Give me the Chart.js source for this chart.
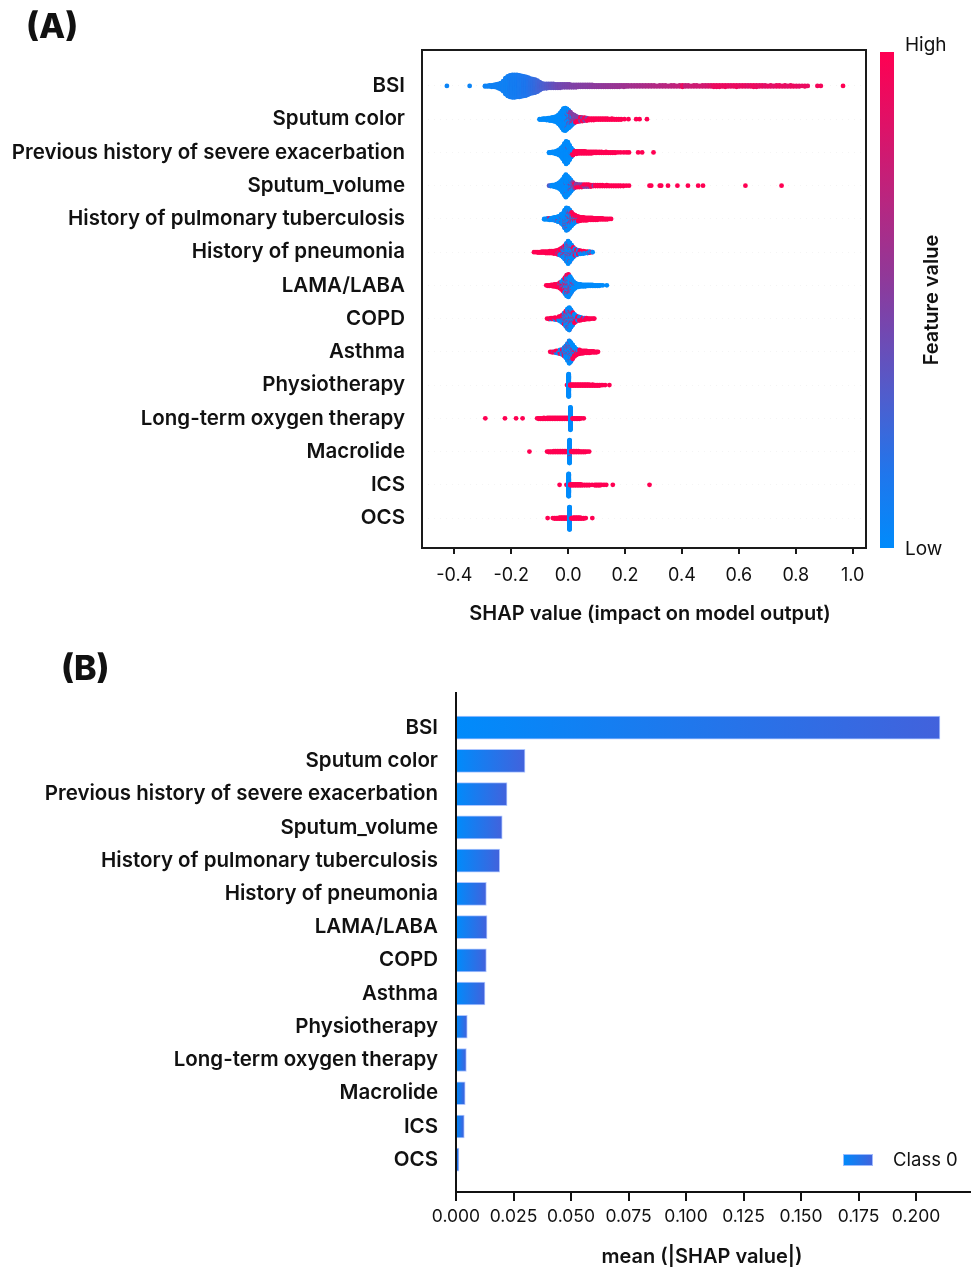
<!DOCTYPE html>
<html><head><meta charset="utf-8">
<script src="https://cdn.jsdelivr.net/npm/chart.js@4.4.1/dist/chart.umd.min.js"></script>
<style>
html,body{margin:0;padding:0;background:#fff;}
#wrap{position:relative;width:971px;height:1267px;overflow:hidden;}
canvas{position:absolute;left:0;}
</style></head><body>
<div id="wrap">
<canvas id="cA" width="971" height="640" style="top:0;width:971px;height:640px"></canvas>
<canvas id="cB" width="971" height="627" style="top:640px;width:971px;height:627px"></canvas>
</div>
<script>
// ---------------- DATA ----------------
const features = ["BSI","Sputum color","Previous history of severe exacerbation","Sputum_volume","History of pulmonary tuberculosis","History of pneumonia","LAMA/LABA","COPD","Asthma","Physiotherapy","Long-term oxygen therapy","Macrolide","ICS","OCS"];

// beeswarm entries per feature: [SHAP value, number of samples, feature value (0 low .. 1 high)]
const shapBSI = [[-0.426,1,0.05],[-0.346,1,0.05],
[-0.292,2,0.06],[-0.284,2,0.06],[-0.276,3,0.06],[-0.268,4,0.07],[-0.26,5,0.07],[-0.252,7,0.08],[-0.244,10,0.08],[-0.236,14,0.08],[-0.228,22,0.08],[-0.22,34,0.08],[-0.212,42,0.08],[-0.204,46,0.1],[-0.196,48,0.1],[-0.188,48,0.1],[-0.18,47,0.1],[-0.172,46,0.12],[-0.164,44,0.12],[-0.156,42,0.14],[-0.148,40,0.14],[-0.14,36,0.16],[-0.132,32,0.18],[-0.124,30,0.2],[-0.116,28,0.22],[-0.108,24,0.24],[-0.1,18,0.26],[-0.092,12,0.28],[-0.084,10,0.3],[-0.076,10,0.32],[-0.068,9,0.34],[-0.06,9,0.36],[-0.052,9,0.38],[-0.044,8,0.4],[-0.036,8,0.42],[-0.028,8,0.43],[-0.02,7,0.44],[-0.012,7,0.45],[-0.004,7,0.46],[0.004,7,0.47],[0.012,6,0.48],[0.02,6,0.48],[0.028,6,0.49],[0.036,5,0.5],[0.044,5,0.5],[0.052,5,0.5],[0.06,5,0.51],[0.068,5,0.51],[0.076,5,0.52],[0.084,5,0.52],[0.092,4,0.53],[0.1,4,0.53],[0.108,4,0.54],[0.116,4,0.54],[0.124,4,0.55],[0.132,4,0.55],[0.14,4,0.56],[0.148,4,0.56],[0.156,4,0.57],[0.164,4,0.57],[0.172,4,0.58],[0.18,4,0.58],[0.188,3,0.59],[0.196,4,0.6],[0.204,3,0.6],[0.212,3,0.61],[0.222,3,0.62],[0.232,3,0.62],[0.242,3,0.63],[0.252,3,0.64],[0.262,3,0.64],[0.272,3,0.65],[0.282,3,0.66],[0.292,3,0.66],[0.302,3,0.67],[0.312,2,0.68],[0.322,3,0.68],[0.332,3,0.69],[0.342,3,0.7],[0.352,2,0.7],[0.362,3,0.71],[0.372,3,0.72],[0.382,2,0.73],[0.392,3,0.74],[0.402,4,0.9],[0.412,3,0.75],[0.422,3,0.76],[0.432,2,0.77],[0.442,3,0.78],[0.452,3,0.78],[0.462,2,0.79],[0.472,3,0.8],[0.482,3,0.8],[0.492,3,0.82],[0.502,3,0.85],[0.512,4,0.9],[0.522,4,0.92],[0.532,4,0.92],[0.542,3,0.9],[0.552,4,0.92],[0.562,3,0.9],[0.572,3,0.88],[0.582,3,0.9],[0.592,4,0.92],[0.602,3,0.88],[0.612,3,0.9],[0.622,3,0.9],[0.632,3,0.86],[0.642,3,0.9],[0.652,4,0.92],[0.662,4,0.9],[0.672,3,0.88],[0.682,3,0.9],[0.692,3,0.86],[0.702,2,0.9],[0.712,3,0.88],[0.722,2,0.86],[0.732,3,0.9],[0.742,3,0.92],[0.752,2,0.88],[0.762,3,0.9],[0.772,2,0.86],[0.782,3,0.9],[0.792,2,0.92],[0.802,2,0.9],[0.812,2,0.88],[0.822,1,0.9],[0.832,2,0.92],[0.842,1,0.9],[0.876,1,0.95],[0.888,1,0.95],[0.966,1,1]];

const shapSputumColor = [[-0.100,2,0],[-0.094,2,0],[-0.088,3,0],[-0.082,3,0],[-0.076,4,0],[-0.070,5,0],[-0.064,6,0],[-0.058,7,0],[-0.052,9,0],[-0.046,11,0],[-0.040,14,0],[-0.034,20,0],[-0.028,28,0],[-0.022,38,0],[-0.016,48,0],[-0.010,50,0],[-0.004,42,0],[0.002,30,0],[0.008,20,0],[0.014,12,0],[0.020,6,0],[0.026,3,0],
[0.002,6,0.5],[0.008,8,0.5],[0.014,8,0.5],[0.020,8,0.5],[0.026,7,0.5],[0.032,6,0.5],[0.038,5,0.5],[0.044,4,0.5],[0.050,3,0.5],[0.058,2,0.5],[0.066,2,0.5],
[-0.004,3,1],[0.002,3,1],[0.008,4,1],[0.014,4,1],[0.020,5,1],[0.026,5,1],[0.032,5,1],[0.038,5,1],[0.044,5,1],[0.050,5,1],[0.058,5,1],[0.066,4,1],[0.074,4,1],[0.082,4,1],[0.090,4,1],[0.098,3,1],[0.106,3,1],[0.114,3,1],[0.122,3,1],[0.130,3,1],[0.138,3,1],[0.146,2,1],[0.154,3,1],[0.162,2,1],[0.170,2,1],[0.178,2,1],[0.186,2,1],[0.198,1,1],[0.212,1,1],[0.239,1,1],[0.251,1,1],[0.277,1,1]];

const shapPrevExacerbation = [[-0.067,2,0],[-0.061,2,0],[-0.055,3,0],[-0.049,4,0],[-0.043,6,0],[-0.037,9,0],[-0.031,13,0],[-0.025,19,0],[-0.019,28,0],[-0.013,40,0],[-0.007,50,0],[-0.001,44,0],[0.005,32,0],[0.011,18,0],[0.017,6,0],
[-0.001,1,1],[0.011,2,1],[0.017,6,1],[0.023,6,1],[0.029,6,1],[0.035,5,1],[0.041,5,1],[0.047,5,1],[0.053,5,1],[0.059,5,1],[0.065,4,1],[0.071,4,1],[0.077,4,1],[0.083,4,1],[0.089,3,1],[0.095,3,1],[0.101,3,1],[0.109,3,1],[0.117,3,1],[0.125,2,1],[0.133,3,1],[0.141,2,1],[0.149,2,1],[0.157,2,1],[0.165,2,1],[0.175,1,1],[0.185,1,1],[0.196,1,1],[0.206,1,1],[0.214,1,1],[0.246,1,1],[0.260,1,1],[0.300,1,1]];

const shapSputumVolume = [[-0.067,1,0.35],[-0.062,2,0.2],[-0.056,3,0],[-0.050,4,0],[-0.044,6,0],[-0.038,9,0],[-0.032,13,0],[-0.026,19,0],[-0.020,28,0],[-0.014,40,0],[-0.008,48,0],[-0.002,42,0],[0.004,30,0],[0.010,18,0],[0.016,8,0],[0.022,3,0],
[-0.008,2,0.5],[0.004,4,0.5],[0.010,5,0.5],[0.016,5,0.5],[0.022,4,0.5],[0.028,4,0.5],[0.034,3,0.5],[0.040,3,0.5],[0.048,3,0.5],[0.056,2,0.5],[0.064,2,0.5],[0.072,2,0.5],[0.080,1,0.5],[0.090,1,0.5],
[0.010,2,1],[0.016,3,1],[0.022,3,1],[0.028,3,1],[0.034,3,1],[0.040,3,1],[0.048,3,1],[0.056,3,1],[0.064,3,1],[0.072,3,1],[0.080,3,1],[0.088,3,1],[0.096,3,1],[0.104,3,1],[0.112,3,1],[0.120,3,1],[0.128,2,1],[0.136,3,1],[0.144,2,1],[0.152,2,1],[0.160,2,1],[0.168,2,1],[0.176,2,1],[0.184,2,1],[0.194,2,1],[0.204,1,1],[0.214,1,1],[0.286,1,1],[0.292,1,1],[0.322,1,1],[0.327,1,1],[0.351,1,1],[0.384,1,1],[0.421,1,1],[0.457,1,1],[0.474,1,1],[0.623,1,1],[0.750,1,1]];

const shapTuberculosis = [[-0.084,2,0],[-0.078,2,0],[-0.072,3,0],[-0.066,3,0],[-0.060,4,0],[-0.054,5,0],[-0.048,6,0],[-0.042,8,0],[-0.036,10,0],[-0.030,13,0],[-0.024,18,0],[-0.018,26,0],[-0.012,36,0],[-0.006,45,0],[0.000,40,0],[0.006,30,0],[0.012,20,0],[0.018,12,0],[0.024,7,0],[0.030,4,0],[0.036,2,0],
[-0.066,1,1],[-0.048,1,1],[-0.036,2,1],[-0.024,3,1],[-0.012,4,1],[-0.006,5,1],[0.000,7,1],[0.006,9,1],[0.012,10,1],[0.018,10,1],[0.024,10,1],[0.030,9,1],[0.036,9,1],[0.042,8,1],[0.048,7,1],[0.054,7,1],[0.060,6,1],[0.066,6,1],[0.072,5,1],[0.078,5,1],[0.084,5,1],[0.090,4,1],[0.096,4,1],[0.102,4,1],[0.108,3,1],[0.114,3,1],[0.120,3,1],[0.126,2,1],[0.132,2,1],[0.138,2,1],[0.145,1,1],[0.151,1,1]];

const shapPneumonia = [[-0.120,1,1],[-0.113,1,1],[-0.106,2,1],[-0.099,2,1],[-0.092,3,1],[-0.085,3,1],[-0.078,4,1],[-0.071,4,1],[-0.064,5,1],[-0.057,5,1],[-0.050,6,1],[-0.043,7,1],[-0.036,8,1],[-0.030,9,1],[-0.024,9,1],[-0.018,8,1],[-0.012,8,1],[-0.006,8,1],[0.000,8,1],[0.006,8,1],[0.012,7,1],[0.018,6,1],[0.024,5,1],[0.030,5,1],[0.036,4,1],[0.042,4,1],[0.048,3,1],[0.054,3,1],[0.060,2,1],[0.068,2,1],[0.076,1,1],[0.084,1,1],
[-0.036,2,0],[-0.030,4,0],[-0.024,8,0],[-0.018,14,0],[-0.012,22,0],[-0.006,32,0],[0.000,42,0],[0.006,34,0],[0.012,24,0],[0.018,16,0],[0.024,10,0],[0.030,7,0],[0.036,5,0],[0.042,4,0],[0.048,3,0],[0.054,3,0],[0.060,2,0],[0.068,2,0],[0.076,2,0],[0.086,1,0]];

const shapLamaLaba = [[-0.077,1,1],[-0.071,2,1],[-0.065,2,1],[-0.059,3,1],[-0.053,4,1],[-0.047,5,1],[-0.041,6,1],[-0.035,8,1],[-0.029,10,1],[-0.023,12,1],[-0.017,14,1],[-0.011,16,1],[-0.005,16,1],[0.001,14,1],[0.007,10,1],[0.013,6,1],[0.019,3,1],[0.025,2,1],
[-0.029,3,0],[-0.023,6,0],[-0.017,12,0],[-0.011,20,0],[-0.005,30,0],[0.001,36,0],[0.007,30,0],[0.013,22,0],[0.019,15,0],[0.025,10,0],[0.031,7,0],[0.037,6,0],[0.043,5,0],[0.049,4,0],[0.055,4,0],[0.061,4,0],[0.067,3,0],[0.073,3,0],[0.079,3,0],[0.085,3,0],[0.091,2,0],[0.097,2,0],[0.103,2,0],[0.109,2,0],[0.115,1,0],[0.122,1,0],[0.136,1,0]];

const shapCOPD = [[-0.074,1,1],[-0.067,2,1],[-0.060,2,1],[-0.053,3,1],[-0.046,3,1],[-0.039,4,1],[-0.032,5,1],[-0.026,6,1],[-0.020,8,1],[-0.014,9,1],[-0.008,10,1],[-0.002,10,1],[0.004,10,1],[0.010,9,1],[0.016,8,1],[0.022,7,1],[0.028,6,1],[0.034,5,1],[0.040,5,1],[0.046,4,1],[0.052,4,1],[0.058,3,1],[0.064,3,1],[0.070,2,1],[0.076,2,1],[0.082,1,1],[0.088,1,1],[0.092,1,1],
[-0.060,1,0],[-0.046,2,0],[-0.032,4,0],[-0.026,6,0],[-0.020,10,0],[-0.014,16,0],[-0.008,24,0],[-0.002,34,0],[0.004,40,0],[0.010,30,0],[0.016,20,0],[0.022,12,0],[0.028,7,0],[0.034,4,0],[0.040,3,0],[0.046,2,0],[0.058,1,0]];

const shapAsthma = [[-0.063,1,1],[-0.056,2,1],[-0.049,2,1],[-0.042,3,1],[-0.035,3,1],[-0.028,4,1],[-0.021,4,1],[-0.014,5,1],[-0.008,5,1],[-0.002,6,1],[0.004,7,1],[0.010,8,1],[0.016,9,1],[0.022,9,1],[0.028,8,1],[0.034,7,1],[0.040,7,1],[0.046,6,1],[0.052,6,1],[0.058,5,1],[0.064,5,1],[0.070,4,1],[0.076,4,1],[0.082,3,1],[0.088,3,1],[0.094,2,1],[0.100,2,1],[0.105,1,1],
[-0.050,1,0],[-0.042,2,0],[-0.035,3,0],[-0.028,5,0],[-0.021,8,0],[-0.014,14,0],[-0.008,22,0],[-0.002,32,0],[0.004,43,0],[0.010,34,0],[0.016,22,0],[0.022,12,0],[0.028,6,0],[0.034,3,0],[0.040,2,0]];

const shapPhysiotherapy = [[0.002,50,0],[-0.004,1,1],[0.008,3,1],[0.014,3,1],[0.020,3,1],[0.026,3,1],[0.032,3,1],[0.038,3,1],[0.044,3,1],[0.050,3,1],[0.056,3,1],[0.062,3,1],[0.068,3,1],[0.074,3,1],[0.080,2,1],[0.086,3,1],[0.092,2,1],[0.098,2,1],[0.104,2,1],[0.110,2,1],[0.116,1,1],[0.122,1,1],[0.130,1,1],[0.145,1,1]];

const shapOxygen = [[0.008,50,0],[-0.291,1,1],[-0.222,1,1],[-0.183,1,1],[-0.160,1,1],[-0.109,1,1],[-0.103,2,1],[-0.097,2,1],[-0.091,2,1],[-0.085,3,1],[-0.079,2,1],[-0.073,3,1],[-0.067,3,1],[-0.061,3,1],[-0.055,3,1],[-0.049,3,1],[-0.043,3,1],[-0.037,3,1],[-0.031,3,1],[-0.025,3,1],[-0.019,3,1],[-0.013,3,1],[-0.007,3,1],[-0.001,3,1],[0.016,2,1],[0.022,2,1],[0.028,2,1],[0.034,2,1],[0.040,2,1],[0.047,1,1],[0.055,1,1]];

const shapMacrolide = [[0.005,50,0],[-0.136,1,1],[-0.074,1,1],[-0.068,2,1],[-0.062,2,1],[-0.056,2,1],[-0.050,3,1],[-0.044,3,1],[-0.038,3,1],[-0.032,3,1],[-0.026,3,1],[-0.020,3,1],[-0.014,3,1],[-0.008,3,1],[-0.002,3,1],[0.005,1,1],[0.012,3,1],[0.018,3,1],[0.024,3,1],[0.030,3,1],[0.036,3,1],[0.042,2,1],[0.048,2,1],[0.054,2,1],[0.060,2,1],[0.067,1,1],[0.074,1,1]];

const shapICS = [[0.002,50,0],[-0.030,1,1],[-0.006,1,1],[0.008,3,1],[0.014,3,1],[0.020,3,1],[0.026,3,1],[0.032,3,1],[0.038,3,1],[0.044,3,1],[0.050,2,1],[0.058,2,1],[0.066,2,1],[0.074,2,1],[0.084,1,1],[0.094,2,1],[0.100,2,1],[0.106,2,1],[0.112,2,1],[0.118,1,1],[0.126,1,1],[0.134,1,1],[0.157,1,1],[0.286,1,1]];

const shapOCS = [[0.005,50,0],[-0.072,1,1],[-0.054,1,1],[-0.048,2,1],[-0.042,2,1],[-0.036,2,1],[-0.030,3,1],[-0.024,3,1],[-0.018,3,1],[-0.012,3,1],[-0.006,3,1],[0.012,2,1],[0.018,3,1],[0.024,3,1],[0.030,3,1],[0.036,3,1],[0.042,3,1],[0.048,2,1],[0.055,2,1],[0.062,1,1],[0.085,1,1]];

const shapRows = [shapBSI, shapSputumColor, shapPrevExacerbation, shapSputumVolume, shapTuberculosis, shapPneumonia, shapLamaLaba, shapCOPD, shapAsthma, shapPhysiotherapy, shapOxygen, shapMacrolide, shapICS, shapOCS];

// mean(|SHAP value|) per feature (panel B)
const meanAbsShap = [0.2104, 0.0300, 0.0222, 0.0201, 0.0190, 0.0132, 0.0135, 0.0132, 0.0126, 0.0049, 0.0045, 0.0040, 0.0036, 0.0013];

const xTicksA = [-0.4, -0.2, 0.0, 0.2, 0.4, 0.6, 0.8, 1.0];
const xTicksB = [0, 0.025, 0.05, 0.075, 0.1, 0.125, 0.15, 0.175, 0.2];

const panelA = "(A)", panelB = "(B)";
const titleA = "SHAP value (impact on model output)";
const titleB = "mean (|SHAP value|)";
const cbHigh = "High", cbLow = "Low", cbTitle = "Feature value";
const legendLabel = "Class 0";

// ---------------- STYLE ----------------
const FONT = 'Inter';
const LABEL_FONT = {family:FONT, size:20.5, weight:'600'};
const cmapStops = [[0,[0,139,251]],[0.15,[32,118,236]],[0.3,[78,94,206]],[0.45,[118,70,174]],[0.55,[145,56,152]],[0.7,[184,38,128]],[0.85,[222,18,104]],[1,[255,0,82]]];
function cmap(t){
  t = Math.max(0, Math.min(1, t));
  for (let i=1;i<cmapStops.length;i++){
    const [t1,c1]=cmapStops[i]; const [t0,c0]=cmapStops[i-1];
    if (t<=t1){ const f=(t-t0)/(t1-t0); return `rgb(${Math.round(c0[0]+(c1[0]-c0[0])*f)},${Math.round(c0[1]+(c1[1]-c0[1])*f)},${Math.round(c0[2]+(c1[2]-c0[2])*f)})`; }
  }
  return 'rgb(255,0,82)';
}

// beeswarm layout (shap-style stacking of samples that share a bin)
function interleave(groups){
  const total = groups.reduce((s,g)=>s+g.n,0);
  const used = groups.map(()=>0); const out=[];
  for (let k=0;k<total;k++){
    let best=-1, bs=Infinity;
    groups.forEach((g,i)=>{ if(used[i]<g.n){ const sc=(used[i]+0.5)/g.n; if(sc<bs){bs=sc;best=i;} } });
    out.push(groups[best].fv); used[best]++;
  }
  return out;
}
const swarmPts = [], swarmCols = [];
shapRows.forEach((entries,row)=>{
  const bins = new Map();
  entries.forEach(([x,n,fv])=>{ const k=x.toFixed(4); if(!bins.has(k)) bins.set(k,{x,groups:[]}); bins.get(k).groups.push({n,fv}); });
  let maxC = 0; bins.forEach(b=>{ maxC=Math.max(maxC, b.groups.reduce((s,g)=>s+g.n,0)); });
  const maxOff = Math.ceil((maxC-1)/2);
  const step = 0.9*0.4/(maxOff+1);
  [...bins.values()].sort((a,b)=>a.x-b.x).forEach(b=>{
    interleave(b.groups).forEach((fv,layer)=>{
      const off = Math.ceil(layer/2)*((layer%2)*2-1);
      swarmPts.push({x:b.x, y:row+off*step});
      swarmCols.push(cmap(fv));
    });
  });
});

function setTicks(vals){ return s => { s.ticks = vals.map(v=>({value:v})); }; }

// ---------------- PANEL A ----------------
const decoA = {
  id:'decoA',
  afterDraw(chart){
    const c = chart.ctx, a = chart.chartArea;
    c.save();
    c.strokeStyle = '#1a1a1a'; c.lineWidth = 2;
    c.strokeRect(a.left, a.top, a.right-a.left, a.bottom-a.top);
    // colorbar
    const cbX=880, cbY=52, cbW=14, cbH=496;
    const g = c.createLinearGradient(0, cbY+cbH, 0, cbY);
    cmapStops.forEach(([t,col])=>g.addColorStop(t, `rgb(${col[0]},${col[1]},${col[2]})`));
    c.fillStyle = g; c.fillRect(cbX, cbY, cbW, cbH);
    c.fillStyle = '#111'; c.textBaseline='middle'; c.textAlign='left';
    c.font = `400 19px ${FONT}`;
    c.fillText(cbHigh, 905, 45);
    c.fillText(cbLow, 905, 549);
    c.save(); c.translate(932, 300); c.rotate(-Math.PI/2);
    c.textAlign='center'; c.font = `600 20px ${FONT}`; c.fillText(cbTitle, 0, 0); c.restore();
    // axis title
    c.textAlign='center'; c.font = `600 20px ${FONT}`;
    c.fillText(titleA, 650, 614);
    // panel letter
    c.textAlign='left'; c.font = `800 34px ${FONT}`;
    c.fillText(panelA, 26, 28);
    c.restore();
  }
};

new Chart(document.getElementById('cA'), {
  type:'scatter',
  data:{ datasets:[{ data: swarmPts, pointBackgroundColor: swarmCols, pointRadius:2.4, pointHoverRadius:2.4, pointBorderWidth:0, showLine:false }] },
  options:{
    responsive:false, animation:false, devicePixelRatio:1, events:[],
    layout:{ padding:{ left:0, top:50, right:105, bottom:0 } },
    plugins:{ legend:{display:false}, tooltip:{enabled:false} },
    scales:{
      x:{ type:'linear', min:-0.5135, max:1.0467, offset:false,
          afterBuildTicks: setTicks(xTicksA), afterFit: s=>{ s.height = 92; },
          ticks:{ callback:v=>Number(v).toFixed(1), font:{family:FONT, size:18}, color:'#111', padding:11, maxRotation:0, autoSkip:false },
          grid:{ drawOnChartArea:false, drawTicks:true, tickLength:6, color:'#1a1a1a', lineWidth:2 },
          border:{ display:false } },
      y:{ type:'linear', reverse:true, min:-1.08, max:13.9, offset:false,
          afterBuildTicks: setTicks(features.map((_,i)=>i)), afterFit: s=>{ s.width = 422; },
          ticks:{ callback:v=>features[v], font:LABEL_FONT, color:'#111', padding:17, autoSkip:false },
          grid:{ drawTicks:false, color:'#ececec', lineWidth:0.6 },
          border:{ display:false, dash:[1,5] } }
    }
  },
  plugins:[decoA]
});

// ---------------- PANEL B ----------------
function barGradient(ctx2d, x0, x1){
  const g = ctx2d.createLinearGradient(x0,0,x1,0);
  g.addColorStop(0,'#008bfb'); g.addColorStop(1,'#4262dc');
  return g;
}
const decoB = {
  id:'decoB',
  afterDraw(chart){
    const c = chart.ctx;
    c.save();
    // legend
    c.fillStyle = barGradient(c, 843, 873); c.fillRect(843, 514, 30, 12);
    c.strokeStyle='rgba(170,195,255,0.9)'; c.lineWidth=1; c.strokeRect(843.5,514.5,29,11);
    c.fillStyle='#111'; c.textBaseline='middle'; c.textAlign='left';
    c.font = `400 18.5px ${FONT}`; c.fillText(legendLabel, 893, 520);
    // axis title
    c.textAlign='center'; c.font = `600 20px ${FONT}`;
    c.fillText(titleB, 702, 617);
    // panel letter
    c.textAlign='left'; c.font = `800 34px ${FONT}`;
    c.fillText(panelB, 61, 30);
    c.restore();
  }
};

new Chart(document.getElementById('cB'), {
  type:'bar',
  data:{ datasets:[{ label:legendLabel, data: meanAbsShap.map((v,i)=>({x:v, y:i})),
    backgroundColor: (ctx)=>{
      if (ctx.type!=='data') return '#1a7ff0';
      const xs = ctx.chart.scales.x;
      const x0 = xs.getPixelForValue(0), x1 = xs.getPixelForValue(ctx.raw.x);
      if (!isFinite(x0) || !isFinite(x1) || x1-x0 < 1) return '#0a86f8';
      return barGradient(ctx.chart.ctx, x0, x1);
    },
    borderColor:'rgba(165,192,255,0.9)', borderWidth:1, barThickness:23 }] },
  options:{
    indexAxis:'y', responsive:false, animation:false, devicePixelRatio:1, events:[],
    layout:{ padding:{ left:0, top:53, right:0, bottom:0 } },
    plugins:{ legend:{display:false}, tooltip:{enabled:false} },
    scales:{
      x:{ type:'linear', min:0, max:0.2239, offset:false,
          afterBuildTicks: setTicks(xTicksB), afterFit: s=>{ s.height = 75; },
          ticks:{ callback:v=>Number(v).toFixed(3), font:{family:FONT, size:17.5}, color:'#111', padding:5, maxRotation:0, autoSkip:false },
          grid:{ drawOnChartArea:false, drawTicks:true, tickLength:9, color:'#111', lineWidth:2 },
          border:{ display:true, color:'#111', width:2 } },
      y:{ type:'linear', reverse:true, min:-1.044, max:13.972, offset:false,
          afterBuildTicks: setTicks(features.map((_,i)=>i)), afterFit: s=>{ s.width = 456; },
          ticks:{ callback:v=>features[v], font:LABEL_FONT, color:'#111', padding:18, autoSkip:false },
          grid:{ display:false, drawTicks:false },
          border:{ display:true, color:'#111', width:2 } }
    }
  },
  plugins:[decoB]
});
</script>
</body></html>
